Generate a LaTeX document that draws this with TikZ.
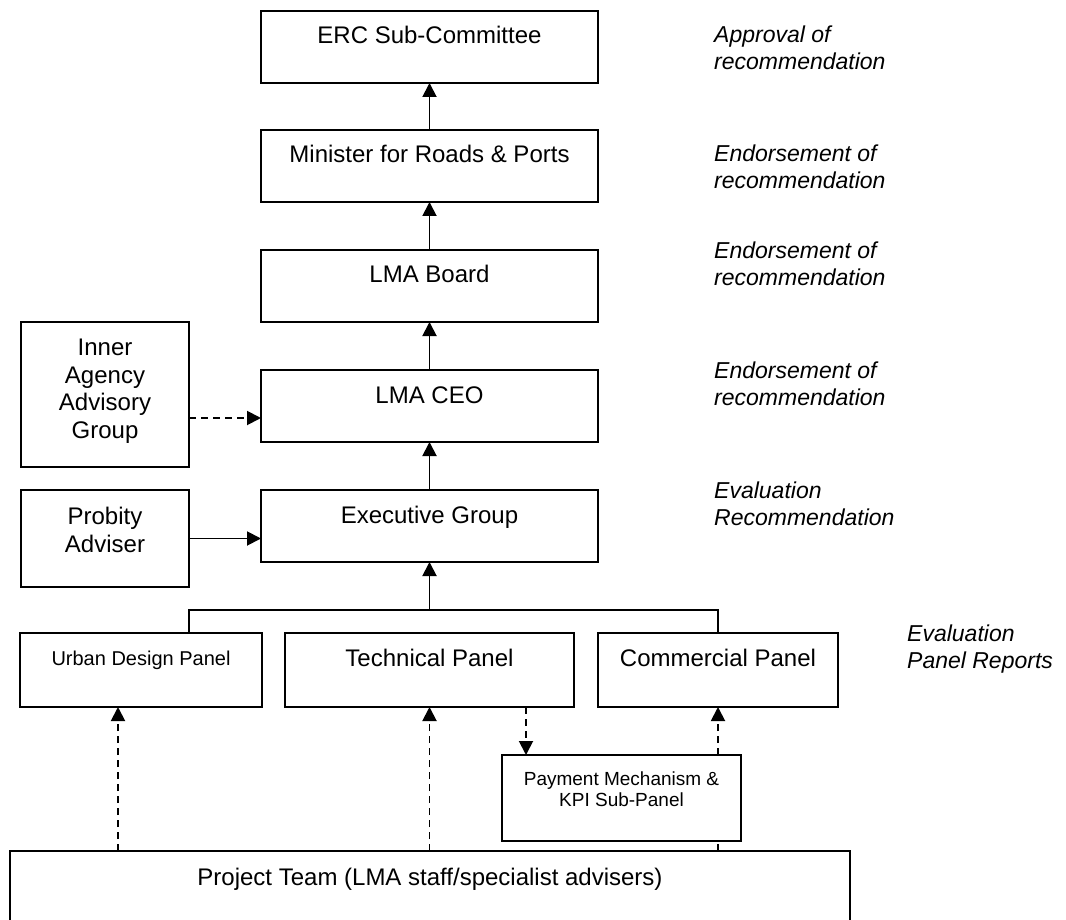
\documentclass[tikz,border=0pt]{standalone}
\usepackage{fontspec}
\setmainfont{Liberation Sans}
\usetikzlibrary{arrows.meta}
\begin{document}
\begin{tikzpicture}[x=1pt,y=-1pt,
  box/.style={draw, line width=2pt, inner sep=0pt, outer sep=0pt, fill=white},
  boxtext/.style={inner sep=0pt, font=\fontsize{24}{27.5}\selectfont, align=center},
  smalltext/.style={inner sep=0pt, font=\fontsize{20}{23}\selectfont, align=center},
  paytext/.style={inner sep=0pt, font=\fontsize{19}{21}\selectfont, align=center},
  note/.style={inner sep=0pt, anchor=north west, align=left, font=\fontsize{23}{27}\selectfont\itshape},
  conn/.style={line width=1.9pt},
  arr/.style={conn, -{Triangle[length=14pt,width=14pt]}},
  darr/.style={arr, dash pattern=on 7pt off 5pt},
  dline/.style={conn, dash pattern=on 7pt off 5pt}]
\useasboundingbox (0,0) rectangle (1066,920);
\clip (0,0) rectangle (1066,920);

% boxes
\node[box, minimum width=337pt, minimum height=72pt] (erc) at (429.5,47) {};
\node[box, minimum width=337pt, minimum height=72pt] (min) at (429.5,166) {};
\node[box, minimum width=337pt, minimum height=72pt] (board) at (429.5,286) {};
\node[box, minimum width=337pt, minimum height=72pt] (ceo) at (429.5,406) {};
\node[box, minimum width=337pt, minimum height=72pt] (exec) at (429.5,526) {};
\node[box, minimum width=168pt, minimum height=145pt] (inner) at (105,394.5) {};
\node[box, minimum width=168pt, minimum height=97pt] (prob) at (105,538.5) {};
\node[box, minimum width=242pt, minimum height=74pt] (urban) at (141,670) {};
\node[box, minimum width=289pt, minimum height=74pt] (tech) at (429.5,670) {};
\node[box, minimum width=240pt, minimum height=74pt] (comm) at (718,670) {};
\node[box, minimum width=239pt, minimum height=86pt] (pay) at (621.5,798) {};
\node[box, minimum width=840pt, minimum height=74pt] (team) at (430,888) {};

% box texts
\node[boxtext, anchor=base] (terc) at (429.5,44) {ERC Sub-Committee};
\node[boxtext, anchor=base] (tmin) at (429.5,163) {Minister for Roads \& Ports};
\node[boxtext, anchor=base] (tboard) at (429.5,283) {LMA Board};
\node[boxtext, anchor=base] (tceo) at (429.5,403) {LMA CEO};
\node[boxtext, anchor=base] (texec) at (429.5,523) {Executive Group};
\node[boxtext, anchor=north] (tinner) at (105,339) {Inner\\Agency\\Advisory\\Group};
\node[boxtext, anchor=north] (tprob) at (105,507) {Probity\\Adviser};
\node[smalltext, anchor=base] (turban) at (141,665) {Urban Design Panel};
\node[boxtext, anchor=base] (ttech) at (429.5,666) {Technical Panel};
\node[boxtext, anchor=base] (tcomm) at (718,666) {Commercial Panel};
\node[paytext, anchor=north] (tpay) at (621.5,771.5) {Payment Mechanism \&\\KPI Sub-Panel};
\node[boxtext, anchor=base] (tteam) at (430,885) {Project Team (LMA staff/specialist advisers)};

% side notes
\node[note] (n1) at (714,25.2) {Approval of\\recommendation};
\node[note] (n2) at (714,144.9) {Endorsement of\\recommendation};
\node[note] (n3) at (714,241.5) {Endorsement of\\recommendation};
\node[note] (n4) at (714,361.5) {Endorsement of\\recommendation};
\node[note] (n5) at (714,481.5) {Evaluation\\Recommendation};
\node[note] (n6) at (907,624.9) {Evaluation\\Panel Reports};

% main chain
\draw[arr] (min.north) -- (erc.south);
\draw[arr] (board.north) -- (min.south);
\draw[arr] (ceo.north) -- (board.south);
\draw[arr] (exec.north) -- (ceo.south);

% bus
\coordinate (busL) at (189,610);
\coordinate (busR) at (718,610);
\coordinate (busC) at (429.5,610);
\draw[conn] (urban.north -| busL) -- (busL) -- (busR) -- (comm.north);
\draw[arr] (busC) -- (exec.south);

% side inputs
\coordinate (dy) at (0,418);
\draw[darr] (inner.east |- dy) -- (ceo.west |- dy);
\draw[arr] (prob.east) -- (exec.west |- prob.east);

% dashed inputs from project team
\coordinate (ux) at (118,0);
\coordinate (px) at (526,0);
\draw[darr] (team.north -| ux) -- (urban.south -| ux);
\draw[darr] (team.north -| tech.south) -- (tech.south);
\draw[darr] (tech.south -| px) -- (pay.north -| px);
\draw[dline] (team.north -| comm.south) -- (pay.south -| comm.south);
\draw[darr] (pay.north -| comm.south) -- (comm.south);
\end{tikzpicture}
\end{document}
